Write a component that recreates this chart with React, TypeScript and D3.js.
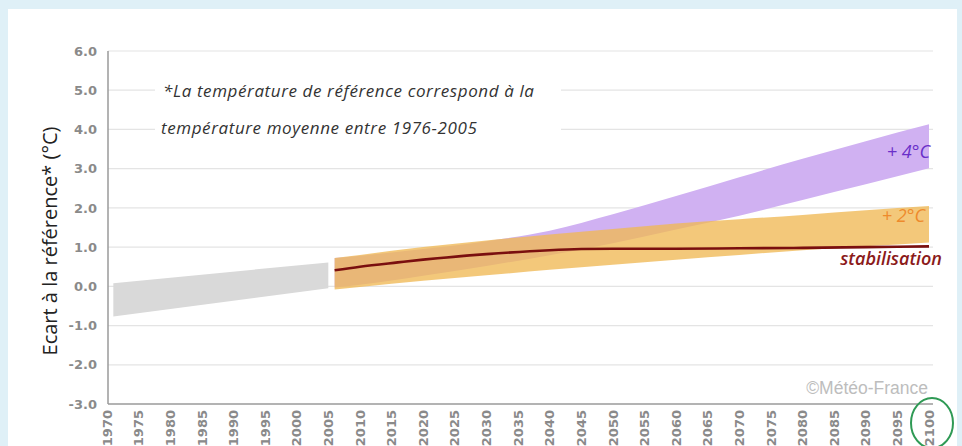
import React from "react"
import * as d3 from "d3"

// y ticks and x tick years
const yTicks = [-3, -2, -1, 0, 1, 2, 3, 4, 5, 6]
const xTickYears = d3.range(1970, 2101, 5)

// observed band (grey)
const histYears = [1971, 2005]
const histLow = [-0.77, -0.05]
const histHigh = [0.08, 0.61]

// projections
const projYears = [2006, 2010, 2020, 2030, 2040, 2050, 2060, 2070, 2080, 2090, 2100]
const plus2Low = [-0.08, -0.02, 0.14, 0.28, 0.42, 0.55, 0.68, 0.8, 0.92, 1.02, 1.12]
const plus2High = [0.72, 0.8, 1.0, 1.17, 1.32, 1.46, 1.6, 1.71, 1.82, 1.94, 2.05]
const plus4Low = [-0.03, 0.04, 0.27, 0.52, 0.79, 1.1, 1.45, 1.8, 2.2, 2.6, 3.01]
const plus4High = [0.72, 0.78, 0.95, 1.15, 1.42, 1.84, 2.3, 2.78, 3.25, 3.7, 4.13]
const stabYears = [2006, 2010, 2016, 2020, 2030, 2040, 2045, 2050, 2060, 2070, 2080, 2090, 2100]
const stabValues = [0.41, 0.5, 0.61, 0.68, 0.82, 0.92, 0.95, 0.96, 0.96, 0.97, 0.98, 1.0, 1.02]

const W = 962
const H = 446

export default function App() {
  const x = d3.scaleLinear().domain([1970, 2100]).range([107, 929])
  const y = d3.scaleLinear().domain([-3, 6]).range([404, 51])
  const plotLeft = 108
  const plotRight = 933

  const band = (years, lo, hi) =>
    d3
      .area()
      .x((d, i) => x(years[i]))
      .y0((d, i) => y(lo[i]))
      .y1((d, i) => y(hi[i]))
      .curve(d3.curveMonotoneX)(years)

  const stabLine = d3
    .line()
    .x((d, i) => x(stabYears[i]))
    .y(d => y(d))
    .curve(d3.curveMonotoneX)(stabValues)

  const tickFont = "'DejaVu Sans', sans-serif"
  const noteFont = "'Open Sans', sans-serif"

  return (
    <div style={{ position: "fixed", left: 0, top: 0 }}>
      <svg width={W} height={H} style={{ display: "block" }}>
        <rect x={0} y={0} width={W} height={H} fill="#dff0f7" />
        <rect x={8} y={9} width={949} height={H} fill="#ffffff" />

        {/* grid */}
        {yTicks.slice(1).map(t => (
          <line
            key={"g" + t}
            x1={plotLeft}
            x2={plotRight}
            y1={y(t)}
            y2={y(t)}
            stroke="#e4e4e4"
            strokeWidth={1.2}
          />
        ))}

        {/* note box hides the grid behind the text */}
        <rect x={155} y={76} width={406} height={66} fill="#ffffff" />
        <text x={163} y={97} fontFamily={noteFont} fontStyle="italic" fontSize={17} letterSpacing={0.6} fill="#333">
          *La température de référence correspond à la
        </text>
        <text x={161} y={134} fontFamily={noteFont} fontStyle="italic" fontSize={17} letterSpacing={0.6} fill="#333">
          température moyenne entre 1976-2005
        </text>

        {/* bands */}
        <path d={band(histYears, histLow, histHigh)} fill="#d9d9d9" />
        <path d={band(projYears, plus4Low, plus4High)} fill="#d0b1f2" />
        <path
          d={band(projYears, plus2Low, plus2High)}
          fill="#f0b955"
          fillOpacity={0.78}
        />
        <path d={stabLine} fill="none" stroke="#7a0f0f" strokeWidth={2.6} />

        {/* axes */}
        <line x1={plotLeft} x2={plotLeft} y1={y(6)} y2={y(-3)} stroke="#9a9a9a" strokeWidth={1.5} />
        <line x1={plotLeft} x2={plotRight} y1={y(-3)} y2={y(-3)} stroke="#9a9a9a" strokeWidth={1.5} />

        {yTicks.map(t => (
          <text
            key={"y" + t}
            x={97}
            y={y(t)}
            dy="0.36em"
            textAnchor="end"
            fontFamily={tickFont}
            fontWeight="bold"
            fontSize={13}
            fill="#8a8a8a"
          >
            {t.toFixed(1)}
          </text>
        ))}

        {xTickYears.map(yr => (
          <text
            key={"x" + yr}
            transform={`translate(${x(yr)},410) rotate(-90)`}
            dy="0.36em"
            textAnchor="end"
            fontFamily={tickFont}
            fontWeight="bold"
            fontSize={13}
            fill="#8a8a8a"
          >
            {yr}
          </text>
        ))}

        <text
          transform="translate(57,241) rotate(-90)"
          textAnchor="middle"
          fontFamily="'Open Sans', sans-serif"
          fontSize={20}
          fill="#222"
        >
          Ecart à la référence* (°C)
        </text>

        {/* series labels */}
        <text x={930} y={158} textAnchor="end" fontFamily={noteFont} fontStyle="italic" fontSize={18} fill="#6a2fc9">
          + 4°C
        </text>
        <text x={925} y={222} textAnchor="end" fontFamily={noteFont} fontStyle="italic" fontSize={18} fill="#ee8a2c">
          + 2°C
        </text>
        <text x={942} y={265} textAnchor="end" fontFamily={noteFont} fontStyle="italic" fontWeight="600" fontSize={18} fill="#8b1a1a">
          stabilisation
        </text>

        <text x={928} y={394} textAnchor="end" fontFamily="'Liberation Sans', sans-serif" fontSize={17.5} fill="#bdbdbd">
          ©Météo-France
        </text>

        <ellipse cx={932} cy={423} rx={21} ry={25} fill="none" stroke="#2f9a55" strokeWidth={2} />
      </svg>
    </div>
  )
}
